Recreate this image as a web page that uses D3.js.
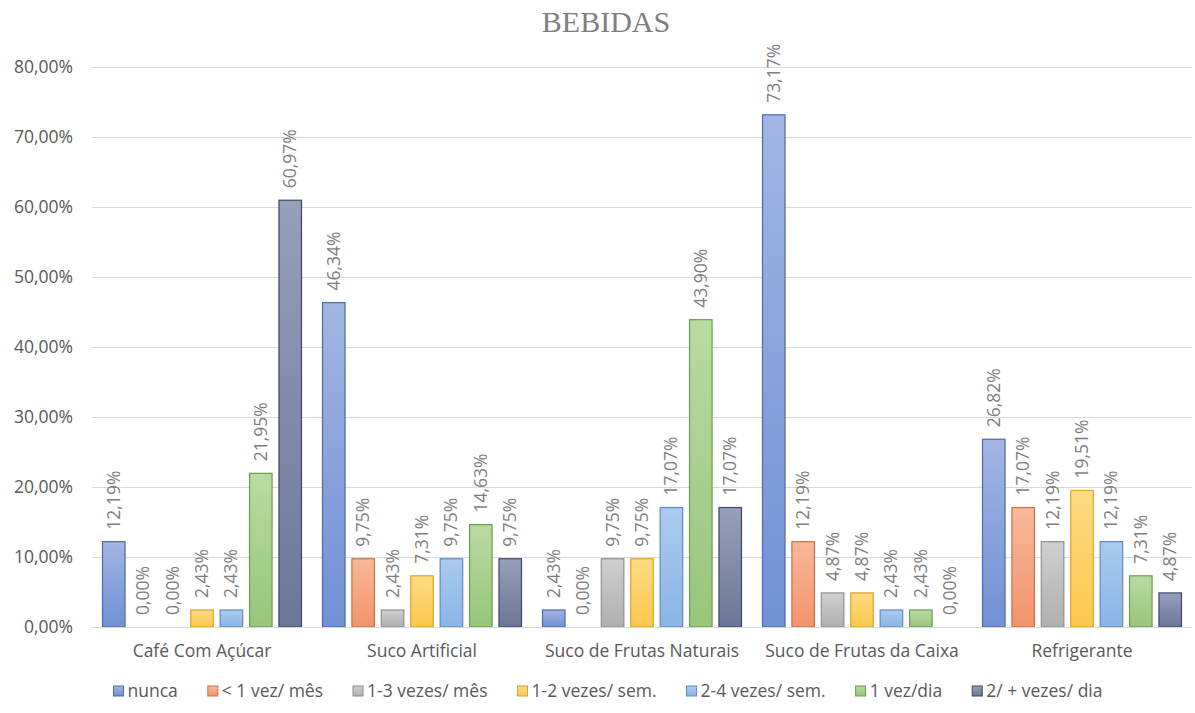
<!DOCTYPE html>
<html>
<head>
<meta charset="utf-8">
<script src="https://cdn.jsdelivr.net/npm/d3@7"></script>
<style>
  html, body { margin: 0; padding: 0; background: #fff; }
  svg { display: block; }
</style>
</head>
<body>
<svg id="chart" width="1195" height="713"></svg>
<script>
// Beverage consumption frequency (percent of respondents)
const categories = ["Café Com Açúcar", "Suco Artificial", "Suco de Frutas Naturais", "Suco de Frutas da Caixa", "Refrigerante"];
const seriesNames = ["nunca", "< 1 vez/ mês", "1-3 vezes/ mês", "1-2 vezes/ sem.", "2-4 vezes/ sem.", "1 vez/dia", "2/ + vezes/ dia"];
const nunca      = [12.19, 46.34, 2.43, 73.17, 26.82];
const menos1Mes  = [0.00, 9.75, 0.00, 12.19, 17.07];
const vezes13Mes = [0.00, 2.43, 9.75, 4.87, 12.19];
const vezes12Sem = [2.43, 7.31, 9.75, 4.87, 19.51];
const vezes24Sem = [2.43, 9.75, 17.07, 2.43, 12.19];
const umaVezDia  = [21.95, 14.63, 43.90, 2.43, 7.31];
const duasMaisDia = [60.97, 9.75, 17.07, 0.00, 4.87];
const seriesValues = [nunca, menos1Mes, vezes13Mes, vezes12Sem, vezes24Sem, umaVezDia, duasMaisDia];
const yTicks = [0, 10, 20, 30, 40, 50, 60, 70, 80];

// fill: [top, bottom], stroke
const palette = [
  { top: "#a3b5e3", bottom: "#7190d5", stroke: "#4f6aa8" },
  { top: "#f8b89a", bottom: "#f2946b", stroke: "#c8724a" },
  { top: "#cfcfcf", bottom: "#b0b0b0", stroke: "#8f8f8f" },
  { top: "#ffdb85", bottom: "#fcc84d", stroke: "#d9a42a" },
  { top: "#abcbee", bottom: "#8ab4e6", stroke: "#5f8ac0" },
  { top: "#b9dba2", bottom: "#97c67a", stroke: "#6e9b52" },
  { top: "#96a0bc", bottom: "#6c7696", stroke: "#3e4763" }
];

const fmt = v => v.toFixed(2).replace(".", ",") + "%";

const svg = d3.select("#chart");
const W = 1195, H = 713;
const margin = { left: 92, right: 3, top: 67, bottom: 86 };
const plotBottom = H - margin.bottom;

const x0 = d3.scaleBand().domain(categories).range([margin.left, W - margin.right]).padding(0);
const x1 = d3.scaleBand().domain(seriesNames).range([10, x0.bandwidth() - 10]).paddingInner(0.2).paddingOuter(0);
const y = d3.scaleLinear().domain([0, 80]).range([plotBottom, margin.top]);

const FONT = "'Open Sans', 'Liberation Sans', sans-serif";
const FS = 17.5;

// gradients
const defs = svg.append("defs");
palette.forEach((p, i) => {
  const g = defs.append("linearGradient").attr("id", "grad" + i)
    .attr("x1", 0).attr("y1", 0).attr("x2", 0).attr("y2", 1);
  g.append("stop").attr("offset", "0%").attr("stop-color", p.top);
  g.append("stop").attr("offset", "100%").attr("stop-color", p.bottom);
});

// title
svg.append("text")
  .attr("x", 606).attr("y", 32)
  .attr("text-anchor", "middle")
  .attr("font-family", "'Liberation Serif', 'DejaVu Serif', serif")
  .attr("font-size", 30)
  .attr("fill", "#7f7f7f")
  .text("BEBIDAS");

// gridlines + y axis labels
const yAxis = d3.axisLeft(y).tickValues(yTicks).tickSize(-(W - margin.right - margin.left))
  .tickFormat(d => d.toFixed(2).replace(".", ",") + "%").tickPadding(19);
const yg = svg.append("g").attr("transform", `translate(${margin.left},0)`).call(yAxis);
yg.select(".domain").remove();
yg.selectAll(".tick line").attr("stroke", "#d9d9d9").attr("stroke-width", 1);
yg.selectAll(".tick text").attr("fill", "#595959").attr("font-family", FONT).attr("font-size", FS);

// bars
const groups = svg.append("g").selectAll("g")
  .data(categories)
  .join("g")
  .attr("transform", d => `translate(${x0(d)},0)`);

groups.each(function (cat, ci) {
  const g = d3.select(this);
  const rows = seriesNames.map((s, si) => ({ s, si, v: seriesValues[si][ci] }));
  g.selectAll("rect").data(rows.filter(r => r.v > 0)).join("rect")
    .attr("x", r => x1(r.s) + 0.5)
    .attr("width", x1.bandwidth() - 1)
    .attr("y", r => y(r.v))
    .attr("height", r => y(0) - y(r.v))
    .attr("fill", r => `url(#grad${r.si})`)
    .attr("stroke", r => palette[r.si].stroke)
    .attr("stroke-width", 1.2);
  g.selectAll("text").data(rows).join("text")
    .attr("transform", r => `translate(${x1(r.s) + x1.bandwidth() / 2 + 6},${y(r.v) - 12}) rotate(-90)`)
    .attr("text-anchor", "start")
    .attr("font-family", FONT)
    .attr("font-size", FS)
    .attr("fill", "#7f7f7f")
    .text(r => fmt(r.v));
});

// baseline
svg.append("line")
  .attr("x1", margin.left).attr("x2", W - margin.right)
  .attr("y1", y(0) + 0.5).attr("y2", y(0) + 0.5)
  .attr("stroke", "#d9d9d9");

// category labels
const xAxis = d3.axisBottom(x0).tickSize(0).tickPadding(18);
const xg = svg.append("g").attr("transform", `translate(0,${plotBottom})`).call(xAxis);
xg.select(".domain").remove();
xg.selectAll(".tick text").attr("fill", "#595959").attr("font-family", FONT).attr("font-size", FS);

// legend
const legend = svg.append("g");
const items = legend.selectAll("g").data(seriesNames).join("g");
items.append("rect")
  .attr("width", 10).attr("height", 10).attr("y", -11)
  .attr("fill", (d, i) => `url(#grad${i})`)
  .attr("stroke", (d, i) => palette[i].stroke);
items.append("text")
  .attr("x", 14).attr("y", 0)
  .attr("font-family", FONT).attr("font-size", FS).attr("fill", "#595959")
  .text(d => d);
let lx = 0;
const gap = 30;
items.each(function () {
  const w = this.getBBox().width;
  d3.select(this).attr("transform", `translate(${lx},0)`);
  lx += w + gap;
});
const totalW = lx - gap;
legend.attr("transform", `translate(${608 - totalW / 2},${697})`);
</script>
</body>
</html>
